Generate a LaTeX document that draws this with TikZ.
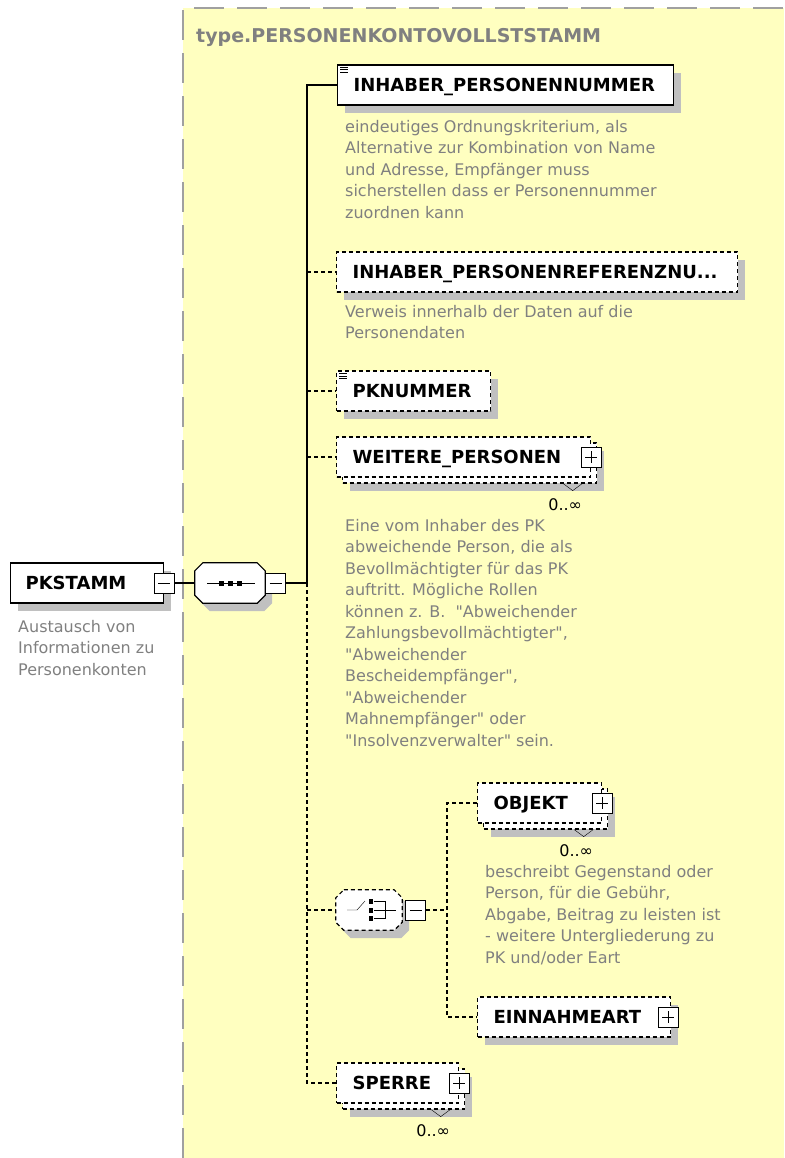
\documentclass[tikz,border=0pt]{standalone}
\usepackage{fontspec}
\setmainfont{DejaVu Sans}[Ligatures=TeXOff]
\usepackage{tikz}
\usetikzlibrary{shadows}
\usetikzlibrary{positioning}
\definecolor{typebg}{RGB}{255,255,192}
\definecolor{shade}{RGB}{192,192,192}
\definecolor{docgray}{RGB}{128,128,128}
\definecolor{frame}{RGB}{160,160,160}
% octagon round a (not drawn) node
\newcommand{\octpath}[1]{([xshift=8pt]#1.north west) -- ([xshift=-8pt]#1.north east) -- ([yshift=-8pt]#1.north east) -- ([yshift=8pt]#1.south east) -- ([xshift=-8pt]#1.south east) -- ([xshift=8pt]#1.south west) -- ([yshift=8pt]#1.south west) -- ([yshift=-8pt]#1.north west) -- cycle}

\begin{document}
\begin{tikzpicture}[
			x=1pt, y=-1pt,
			box/.style={draw, fill=white, line width=1.2pt, inner xsep=16pt, inner ysep=0pt,
				text height=13pt, text depth=0pt, minimum height=40pt, align=left,
				font=\fontsize{18}{20}\selectfont\bfseries},
			dbox/.style={box, dash pattern=on 4pt off 3pt},
			shd/.style={drop shadow={shadow xshift=7pt, shadow yshift=-8pt, opacity=1, fill=shade, draw=none}},
			octa/.style={minimum width=70pt, minimum height=40pt, inner sep=0pt},
			octline/.style={draw, fill=white, line width=1.2pt},
			btn/.style={draw, fill=white, line width=1pt, minimum size=20pt, inner sep=0pt,
				path picture={\draw[line width=1pt] ([xshift=4pt]path picture bounding box.west) -- ([xshift=-4pt]path picture bounding box.east);}},
			plusbtn/.style={btn, path picture={
				\draw[line width=1pt] ([xshift=4pt]path picture bounding box.west) -- ([xshift=-4pt]path picture bounding box.east);
				\draw[line width=1pt] ([yshift=-4pt]path picture bounding box.north) -- ([yshift=4pt]path picture bounding box.south);}},
			desc/.style={anchor=north west, align=left, inner sep=0pt, text=docgray,
				font=\fontsize{16}{21.5}\selectfont, execute at begin node=\strut},
			mult/.style={anchor=east, inner sep=0pt, font=\fontsize{16}{18}\selectfont},
			conn/.style={line width=1.2pt},
			optconn/.style={line width=1.2pt, dash pattern=on 4pt off 3pt}
		]

		\useasboundingbox (0,0) rectangle (784,1158);

		% complex type area
		\fill[typebg] (183,8) rectangle (784,1158);
		\draw[frame, line width=1.5pt, dash pattern=on 30pt off 13pt] (183,1158) -- (183,8) -- (784,8);
		\node[anchor=base west, inner sep=0pt, text=docgray, font=\fontsize{19}{22}\selectfont\bfseries] (ttl) at (196,43) {type.PERSONENKONTOVOLLSTSTAMM};

		% root element
		\node[box, shd, inner xsep=15pt, text width=123pt, anchor=west] (pkstamm) at (10,583) {PKSTAMM};
		\node[btn] (pkbtn) at (pkstamm.east) {};
		\node[desc] (pkstamm-d) at (18,620) {Austausch von\\Informationen zu\\Personenkonten};

		% sequence
		\node[octa] (seq) at (230,583) {};
		\draw[octline, shd] \octpath{seq};
		\node[btn, anchor=west] (seqbtn) at (seq.east) {};
		\draw ([xshift=-23pt]seq.center) -- ([xshift=25pt]seq.center);
		\foreach \dx in {-9,0,9} \fill ([xshift=\dx pt]seq.center) +(-2.5,-2.5) rectangle +(2.5,2.5);

		% children of the sequence
		\node[box, shd, text width=304pt, anchor=west] (inhnr) at (337,85) {INHABER\_PERSONENNUMMER};
		\node[desc] (inhnr-d) at (345,120) {eindeutiges Ordnungskriterium, als\\Alternative zur Kombination von Name\\und Adresse, Empfänger muss\\sicherstellen dass er Personennummer\\zuordnen kann};

		\node[dbox, shd, text width=369pt, anchor=west] (inhref) at (336,272) {INHABER\_PERSONENREFERENZNU...};
		\node[desc] (inhref-d) at (345,305) {Verweis innerhalb der Daten auf die\\Personendaten};

		\node[dbox, shd, text width=122pt, anchor=west] (pknr) at (336,391) {PKNUMMER};

		\foreach \n in {inhnr, pknr}
			\foreach \dy in {3,5.5,8} \draw[line width=0.8pt] ([shift={(3,\dy)}]\n.north west) -- ++(8,0);

		\node[dbox, shd, text width=222pt, anchor=west] (wp-bk) at (342,463) {};
		\node[dbox, text width=222pt, anchor=west] (wp) at (336,457) {WEITERE\_PERSONEN};
		\node[plusbtn] (wpbtn) at (wp.east) {};
		\draw ([xshift=-34pt]wp-bk.south east) -- ++(9.5,7) -- ++(9.5,-7);
		\node[mult] (wp-m) at ([shift={(-15,21)}]wp-bk.south east) {0..∞};
		\node[desc] (wp-d) at (345,519) {Eine vom Inhaber des PK\\abweichende Person, die als\\Bevollmächtigter für das PK\\auftritt. Mögliche Rollen\\können z. B.\ \ "Abweichender\\Zahlungsbevollmächtigter",\\"Abweichender\\Bescheidempfänger",\\"Abweichender\\Mahnempfänger" oder\\"Insolvenzverwalter" sein.};

		% choice
		\node[octa, minimum width=66pt] (choice) at (369,910) {};
		\draw[octline, shd, dash pattern=on 4pt off 3pt] \octpath{choice};
		\node[btn, anchor=west] (chbtn) at ([xshift=3pt]choice.east) {};
		\draw ([xshift=-22pt]choice.center) -- ([xshift=-12pt]choice.center) -- ([shift={(-4,-9)}]choice.center);
		\foreach \dy in {-9,0,8} \fill ([shift={(1.5,\dy)}]choice.center) +(-2,-2.5) rectangle +(2,2.5);
		\draw ([shift={(5,-9)}]choice.center) -| ([shift={(16,8)}]choice.center) -- ([shift={(5,8)}]choice.center);
		\draw ([xshift=5pt]choice.center) -- ([xshift=27pt]choice.center);

		\node[dbox, shd, text width=92pt, anchor=west] (objekt-bk) at (483,809) {};
		\node[dbox, text width=92pt, anchor=west] (objekt) at (477,803) {OBJEKT};
		\node[plusbtn] (objbtn) at (objekt.east) {};
		\draw ([xshift=-34pt]objekt-bk.south east) -- ++(9.5,7) -- ++(9.5,-7);
		\node[mult] (objekt-m) at ([shift={(-15,21)}]objekt-bk.south east) {0..∞};
		\node[desc] (objekt-d) at (485,865) {beschreibt Gegenstand oder\\Person, für die Gebühr,\\Abgabe, Beitrag zu leisten ist\\- weitere Untergliederung zu\\PK und/oder Eart};

		\node[dbox, shd, text width=161pt, anchor=west] (einnahme) at (477,1017) {EINNAHMEART};
		\node[plusbtn] (einbtn) at ([xshift=-3pt]einnahme.east) {};

		\node[dbox, shd, text width=90pt, anchor=west] (sperre-bk) at (342,1089) {};
		\node[dbox, text width=90pt, anchor=west] (sperre) at (336,1083) {SPERRE};
		\node[plusbtn] (spbtn) at (sperre.east) {};
		\draw ([xshift=-34pt]sperre-bk.south east) -- ++(9.5,7) -- ++(9.5,-7);
		\node[mult] (sperre-m) at ([shift={(-15,21)}]sperre-bk.south east) {0..∞};

		% connectors
		\coordinate (trunk) at (307,583);
		\draw[conn] (pkbtn.east) -- (seq.west);
		\draw[conn] (seqbtn.east) -- (trunk) |- (inhnr.west);
		\draw[optconn] (trunk) |- (sperre.west);
		\foreach \n in {inhref, pknr, wp, choice} \draw[optconn] (trunk |- \n.west) -- (\n.west);

		\coordinate (ctrunk) at (447,910);
		\draw[optconn] (chbtn.east) -- (ctrunk);
		\draw[optconn] (objekt.west) -| (ctrunk) |- (einnahme.west);

	\end{tikzpicture}
\end{document}
